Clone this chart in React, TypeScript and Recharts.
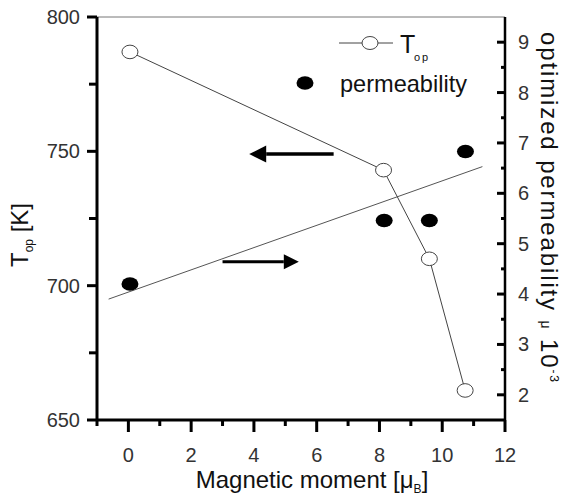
import React from "react";
import { ComposedChart, Scatter, XAxis, YAxis, ReferenceLine } from "recharts";

const FONT = "'Liberation Sans', Arial, sans-serif";

// axis ticks (major ones get labels)
const xTicks = [-1, 0, 1, 2, 3, 4, 5, 6, 7, 8, 9, 10, 11, 12];
const xMajor = [0, 2, 4, 6, 8, 10, 12];
const leftTicks = [650, 675, 700, 725, 750, 775, 800];
const leftMajor = [650, 700, 750, 800];
const rightTicks = [2, 2.5, 3, 3.5, 4, 4.5, 5, 5.5, 6, 6.5, 7, 7.5, 8, 8.5, 9];
const rightMajor = [2, 3, 4, 5, 6, 7, 8, 9];

// T_op vs magnetic moment (left axis)
const topMoment = [0.05, 8.13, 9.59, 10.73];
const topTemp = [787, 743, 710, 661];

// optimized permeability vs magnetic moment (right axis)
const permMoment = [0.05, 8.15, 9.59, 10.74];
const permValue = [4.2, 5.46, 5.46, 6.83];

// linear fit of permeability
const fitMoment = [-0.63, 11.28];
const fitValue = [3.9, 6.53];

// annotation arrows [x, y] from -> to
const leftArrow = [[6.54, 749], [3.85, 749]];
const rightArrow = [[3.0, 4.64], [5.43, 4.64]];

const topData = topMoment.map((x, i) => ({ x, y: topTemp[i] }));
const permData = permMoment.map((x, i) => ({ x, y: permValue[i] }));
const fitData = fitMoment.map((x, i) => ({ x, y: fitValue[i] }));

function XTick({ x, y, payload }: any) {
  const major = xMajor.includes(payload.value);
  return (
    <g>
      <line x1={x} y1={y} x2={x} y2={y + (major ? 12 : 6)} stroke="#000" strokeWidth={3} />
      {major && (
        <text x={x} y={y + 42} textAnchor="middle" fontSize={20} fill="#333" fontFamily={FONT}>
          {payload.value}
        </text>
      )}
    </g>
  );
}

function LeftTick({ x, y, payload }: any) {
  const major = leftMajor.includes(payload.value);
  return (
    <g>
      <line x1={x} y1={y} x2={x - (major ? 10 : 8)} y2={y} stroke="#000" strokeWidth={3} />
      {major && (
        <text x={x - 17} y={y + 7} textAnchor="end" fontSize={20} fill="#333" fontFamily={FONT}>
          {payload.value}
        </text>
      )}
    </g>
  );
}

function RightTick({ x, y, payload }: any) {
  const major = rightMajor.includes(payload.value);
  return (
    <g>
      <line x1={x} y1={y} x2={x - (major ? 8 : 4)} y2={y} stroke="#000" strokeWidth={3} />
      {major && (
        <text x={x + 13} y={y + 7} textAnchor="start" fontSize={20} fill="#333" fontFamily={FONT}>
          {payload.value}
        </text>
      )}
    </g>
  );
}

const OpenDot = (p: any) => (
  <ellipse cx={p.cx} cy={p.cy} rx={8} ry={6.8} fill="#fff" stroke="#444" strokeWidth={1} />
);
const FilledDot = (p: any) => <ellipse cx={p.cx} cy={p.cy} rx={8.5} ry={6.8} fill="#000" />;
const NoDot = () => <g />;

function arrowShape(head: number, width: number) {
  return (p: any) => {
    const { x1, y1, x2, y2 } = p;
    const dir = x2 > x1 ? 1 : -1;
    const base = x2 - dir * head;
    return (
      <g>
        <line x1={x1} y1={y1} x2={base} y2={y2} stroke="#000" strokeWidth={width} />
        <polygon
          points={`${x2},${y2} ${base},${y2 - head / 2} ${base},${y2 + head / 2}`}
          fill="#000"
        />
      </g>
    );
  };
}

export default function App() {
  return (
    <div style={{ position: "absolute", left: 0, top: 0, width: 587, height: 502, background: "#fff" }}>
      <ComposedChart width={587} height={502} margin={{ top: 17, right: 0, bottom: 0, left: 0 }}>
        <XAxis
          dataKey="x"
          type="number"
          domain={[-1, 12]}
          ticks={xTicks}
          interval={0}
          height={82}
          tickSize={0}
          tickMargin={0}
          tick={<XTick />}
          axisLine={{ stroke: "#000", strokeWidth: 3 }}
          allowDataOverflow
        />
        <YAxis
          yAxisId="left"
          orientation="left"
          type="number"
          width={97}
          domain={[650, 800]}
          ticks={leftTicks}
          interval={0}
          tickSize={0}
          tickMargin={0}
          tick={<LeftTick />}
          axisLine={{ stroke: "#000", strokeWidth: 3 }}
          allowDataOverflow
        />
        <YAxis
          yAxisId="right"
          orientation="right"
          type="number"
          width={82}
          domain={[1.5, 9.5]}
          ticks={rightTicks}
          interval={0}
          tickSize={0}
          tickMargin={0}
          tick={<RightTick />}
          axisLine={{ stroke: "#000", strokeWidth: 2.5 }}
          allowDataOverflow
        />
        <ReferenceLine yAxisId="left" y={800} stroke="#777" strokeWidth={1} />
        <Scatter
          yAxisId="right"
          data={fitData}
          dataKey="y"
          line={{ stroke: "#555", strokeWidth: 1 }}
          shape={NoDot}
          isAnimationActive={false}
        />
        <Scatter
          yAxisId="left"
          data={topData}
          dataKey="y"
          line={{ stroke: "#444", strokeWidth: 1 }}
          shape={OpenDot}
          isAnimationActive={false}
        />
        <Scatter
          yAxisId="right"
          data={permData}
          dataKey="y"
          shape={FilledDot}
          isAnimationActive={false}
        />
        <ReferenceLine
          yAxisId="left"
          segment={[
            { x: leftArrow[0][0], y: leftArrow[0][1] },
            { x: leftArrow[1][0], y: leftArrow[1][1] },
          ]}
          shape={arrowShape(17, 3.5)}
        />
        <ReferenceLine
          yAxisId="right"
          segment={[
            { x: rightArrow[0][0], y: rightArrow[0][1] },
            { x: rightArrow[1][0], y: rightArrow[1][1] },
          ]}
          shape={arrowShape(15, 3)}
        />
      </ComposedChart>
      <svg
        width={587}
        height={502}
        style={{ position: "absolute", left: 0, top: 0, pointerEvents: "none" }}
        fontFamily={FONT}
        fill="#111"
      >
        {/* legend */}
        <line x1={339} y1={43} x2={393} y2={43} stroke="#444" strokeWidth={1} />
        <ellipse cx={370} cy={43} rx={8} ry={6.5} fill="#fff" stroke="#444" strokeWidth={1} />
        <text x={400} y={53} fontSize={25}>
          T
        </text>
        <text x={414} y={61} fontSize={11} letterSpacing={2}>
          op
        </text>
        <ellipse cx={305} cy={83} rx={8.5} ry={6.8} fill="#000" />
        <text x={340} y={92} fontSize={24} textLength={127} lengthAdjust="spacingAndGlyphs">
          permeability
        </text>

        {/* axis titles */}
        <text x={312} y={488} fontSize={24} textAnchor="middle">
          Magnetic moment [μ<tspan fontSize={12} dy={5}>B</tspan>
          <tspan dy={-5}>]</tspan>
        </text>
        <text transform="translate(28,235) rotate(-90)" fontSize={24} textAnchor="middle">
          T<tspan fontSize={12} dy={5}>op</tspan>
          <tspan dy={-5}> [K]</tspan>
        </text>
        <text
          transform="translate(541,207) rotate(90)"
          fontSize={24}
          textAnchor="middle"
          textLength={350}
          lengthAdjust="spacing"
        >
          optimized permeability <tspan fontSize={14}>μ</tspan> 10
          <tspan fontSize={12} dy={-9}>-3</tspan>
        </text>
      </svg>
    </div>
  );
}
